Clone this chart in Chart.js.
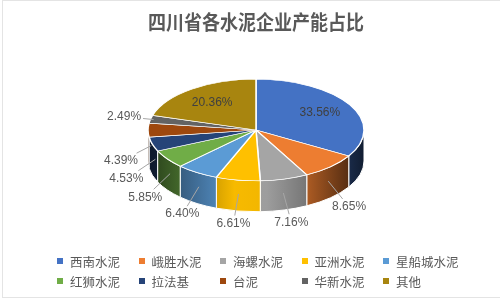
<!DOCTYPE html>
<html>
<head>
<meta charset="utf-8">
<script src="https://cdn.jsdelivr.net/npm/chart.js@4"></script>
<style>
    body { margin: 0; background: #fff; }
    #wrap { position: relative; width: 500px; height: 300px; overflow: hidden; }
    #frame { position: absolute; left: 2px; top: 0; width: 520px; height: 296px; border: 1px solid #e4e4e4; }
    #legend {
        position: absolute; left: 57px; top: 251px;
        display: grid; grid-template-columns: repeat(5, 81.5px); grid-auto-rows: 20px;
        font: 12.5px "Noto Sans CJK SC", sans-serif; color: #595959;
    }
    #legend div { display: flex; align-items: center; white-space: nowrap; }
    #legend span { width: 6px; height: 6px; margin-right: 7px; }
</style>
</head>
<body>
<div id="wrap">
    <div id="frame"></div>
    <canvas id="pieChart" width="500" height="300"></canvas>
    <div id="legend"></div>
</div>
<script>
// data
const companies = ['西南水泥', '峨胜水泥', '海螺水泥', '亚洲水泥', '星船城水泥', '红狮水泥', '拉法基', '台泥', '华新水泥', '其他'];
const shares = [33.56, 8.65, 7.16, 6.61, 6.40, 5.85, 4.53, 4.39, 2.49, 20.36];
const colors = ['#4472C4', '#ED7D31', '#A5A5A5', '#FFC000', '#5B9BD5', '#70AD47', '#264478', '#9E480E', '#636363', '#A8850F'];

// fake 3d look
const TILT = 0.47;
const DEPTH = 31;
const FACE_Y = 130;
const wallStops = [[0, 0.35], [0.15, 0.6], [0.4, 0.97], [0.55, 0.95], [0.75, 0.7], [0.9, 0.42], [1, 0.25]];

function shade(hex, f) {
    const n = parseInt(hex.slice(1), 16);
    const r = Math.round(((n >> 16) & 255) * f);
    const g = Math.round(((n >> 8) & 255) * f);
    const b = Math.round((n & 255) * f);
    return 'rgb(' + r + ',' + g + ',' + b + ')';
}

const pie3d = {
    id: 'pie3d',
    beforeDatasetsDraw(chart) {
        const ctx = chart.ctx;
        const arcs = chart.getDatasetMeta(0).data;
        const cx = arcs[0].x;
        const R = arcs[0].outerRadius;

        // side walls, front half only
        arcs.forEach(function(arc, i) {
            const a = Math.max(arc.startAngle, 0);
            const b = Math.min(arc.endAngle, Math.PI);
            if (b <= a) return;
            const grad = ctx.createLinearGradient(cx - R, 0, cx + R, 0);
            wallStops.forEach(s => grad.addColorStop(s[0], shade(colors[i], s[1])));
            ctx.beginPath();
            ctx.ellipse(cx, FACE_Y, R, R * TILT, 0, a, b);
            ctx.ellipse(cx, FACE_Y + DEPTH, R, R * TILT, 0, b, a, true);
            ctx.closePath();
            ctx.fillStyle = grad;
            ctx.fill();
            ctx.strokeStyle = '#ffffff';
            ctx.lineWidth = 1;
            ctx.stroke();
        });

        // squash the top face
        ctx.save();
        ctx.translate(0, FACE_Y);
        ctx.scale(1, TILT);
        ctx.translate(0, -arcs[0].y);
    },
    afterDatasetsDraw(chart) {
        const ctx = chart.ctx;
        ctx.restore();

        const arcs = chart.getDatasetMeta(0).data;
        ctx.save();
        ctx.font = '12px "Liberation Sans", Arial, sans-serif';
        ctx.textAlign = 'center';
        ctx.textBaseline = 'middle';
        arcs.forEach(function(arc, i) {
            const cx = arc.x, R = arc.outerRadius;
            const mid = (arc.startAngle + arc.endAngle) / 2;
            const c = Math.cos(mid), s = Math.sin(mid);
            const txt = shares[i].toFixed(2) + '%';

            if (shares[i] >= 15) {
                ctx.fillStyle = '#404040';
                ctx.fillText(txt, cx + R * 0.68 * c, FACE_Y + R * TILT * 0.68 * s);
                return;
            }

            const drop = DEPTH * Math.min(Math.max((s + 0.2) / 0.2, 0), 1);
            const lx = cx + R * 1.25 * c;
            const ly = FACE_Y + drop + R * TILT * 1.25 * s;
            const ax = cx + R * 0.97 * c;
            const ay = FACE_Y + R * TILT * 0.97 * s + drop * 0.5;

            // leader line
            const w = ctx.measureText(txt).width;
            const dx = ax - lx, dy = ay - ly;
            const len = Math.hypot(dx, dy);
            const ux = dx / len, uy = dy / len;
            const t = Math.min((w / 2 + 2) / Math.max(Math.abs(ux), 1e-6), (8) / Math.max(Math.abs(uy), 1e-6));
            if (len > t + 4) {
                ctx.beginPath();
                ctx.moveTo(lx + ux * t, ly + uy * t);
                ctx.lineTo(ax, ay);
                ctx.strokeStyle = '#a6a6a6';
                ctx.lineWidth = 1;
                ctx.stroke();
            }

            ctx.fillStyle = '#595959';
            ctx.fillText(txt, lx, ly);
        });
        ctx.restore();
    }
};

new Chart(document.getElementById('pieChart'), {
    type: 'pie',
    data: {
        labels: companies,
        datasets: [{
            data: shares,
            backgroundColor: colors,
            borderColor: '#ffffff',
            borderWidth: 1.5,
            hoverOffset: 0
        }]
    },
    options: {
        responsive: false,
        animation: false,
        radius: 108,
        layout: { padding: { left: 148, right: 136, top: 0, bottom: 0 } },
        plugins: {
            legend: { display: false },
            tooltip: { enabled: false },
            title: {
                display: true,
                text: '四川省各水泥企业产能占比',
                color: '#595959',
                font: { family: '"Noto Sans CJK SC", sans-serif', size: 20, weight: 'bold' },
                padding: { top: 10, bottom: 8 }
            }
        }
    },
    plugins: [pie3d]
});

// html legend in fixed columns like the original
const legendBox = document.getElementById('legend');
companies.forEach(function(name, i) {
    const item = document.createElement('div');
    const mark = document.createElement('span');
    mark.style.background = colors[i];
    item.appendChild(mark);
    item.appendChild(document.createTextNode(name));
    legendBox.appendChild(item);
});
</script>
</body>
</html>
